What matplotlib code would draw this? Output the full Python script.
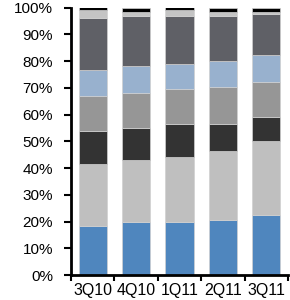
import matplotlib
matplotlib.use("Agg")
import matplotlib.pyplot as plt
import numpy as np

categories = ["3Q10", "4Q10", "1Q11", "2Q11", "3Q11"]
s1 = [18.4, 19.7, 19.7, 20.4, 22.3]
s2 = [23.0, 23.2, 24.3, 25.8, 27.7]
s3 = [12.3, 12.2, 12.3, 10.1, 8.9]
s4 = [13.2, 13.1, 13.2, 13.9, 13.4]
s5 = [9.8, 9.8, 9.3, 9.8, 9.8]
s6 = [19.5, 18.9, 18.1, 16.9, 15.5]
s7 = [2.8, 1.3, 2.1, 1.3, 0.6]
s8 = [1.0, 1.8, 1.0, 1.8, 1.8]
series = [s1, s2, s3, s4, s5, s6, s7, s8]
colors = ["#4F86BE", "#BFBFBF", "#333333", "#969696", "#98B1CE", "#5F6066", "#C4C4C4", "#000000"]

plt.rcParams['font.family'] = ['Liberation Sans', 'DejaVu Sans']
fig = plt.figure(figsize=(2.9, 3.0), dpi=100)
ax = fig.add_axes([0.245, 0.0833, 0.748, 0.8917])

x = np.arange(len(categories))
bottom = np.zeros(len(categories))
for vals, c in zip(series, colors):
    v = np.array(vals)
    ax.bar(x, v, bottom=bottom, width=0.65, color=c, edgecolor="#d0d0d0", linewidth=0.5)
    bottom += v

ax.set_xlim(-0.5, 4.5)
ax.set_ylim(0, 100)
ax.set_yticks(np.arange(0, 101, 10))
ax.set_yticklabels([f"{v}%" for v in range(0, 101, 10)], fontsize=11)
ax.set_xticks(x)
ax.set_xticklabels(categories, fontsize=11.5)
ax.set_xticks(np.arange(-0.5, 5.0, 1.0), minor=True)
ax.tick_params(axis='x', which='major', length=0, pad=6)
ax.tick_params(axis='x', which='minor', length=4, width=1.5, direction='out')
ax.tick_params(axis='y', length=5, width=1.5, direction='out', pad=8)
for s in ["top", "right"]:
    ax.spines[s].set_visible(False)
ax.spines["left"].set_linewidth(2)
ax.spines["bottom"].set_linewidth(2)

fig.savefig("out.png", dpi=100)
